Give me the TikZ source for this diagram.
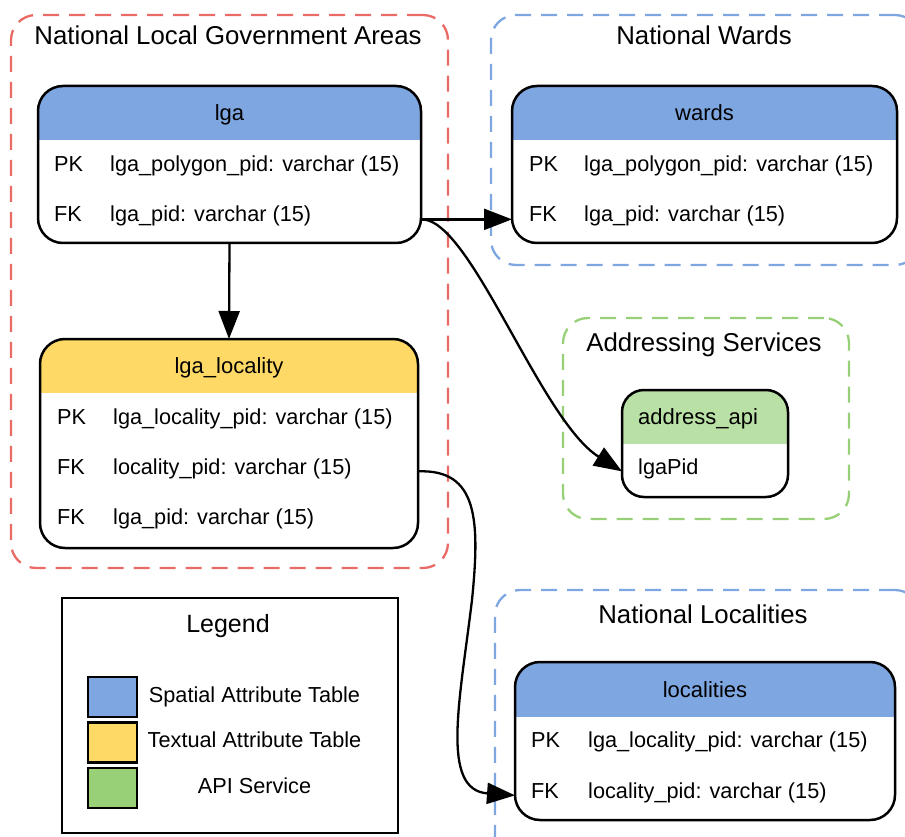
\documentclass[tikz,border=0pt]{standalone}
\usepackage{fontspec}
\setmainfont{Liberation Sans}
\usetikzlibrary{arrows.meta}
\definecolor{hblue}{HTML}{7EA6E0}
\definecolor{hyellow}{HTML}{FFD966}
\definecolor{hgreen}{HTML}{B9E0A5}
\definecolor{lgreen}{HTML}{97D077}
\definecolor{cred}{HTML}{EA6B66}
\definecolor{cblue}{HTML}{7EA6E0}
\definecolor{cgreen}{HTML}{97D077}
\newcommand\fldfont{\fontsize{21.7pt}{26pt}\selectfont}
\newcommand\hdrfont{\fontsize{22pt}{26pt}\selectfont}
\newcommand\ttlfont{\fontsize{25.8pt}{30pt}\selectfont}
\tikzset{
  clus/.style={draw=#1, line width=2.3pt, dash pattern=on 16pt off 10pt, rounded corners=25pt, inner sep=0pt, outer sep=0pt},
  tbl/.style args={#1/#2}{draw=black, line width=2.5pt, rounded corners=25pt, inner sep=0pt, outer sep=0pt,
    path picture={\fill[#1, sharp corners] (path picture bounding box.north west) rectangle ([yshift=-#2]path picture bounding box.north east);}},
  fld/.style={anchor=base west, inner sep=0pt, font=\fldfont},
  hdr/.style={anchor=base, inner sep=0pt, font=\hdrfont},
  ttl/.style={anchor=base, inner sep=0pt, font=\ttlfont},
  conn/.style={line width=2.3pt, -{Triangle[length=28pt,width=21pt]}},
  swatch/.style={draw=black, line width=2.3pt, fill=#1, minimum width=49pt, minimum height=40pt, inner sep=0pt},
}
\begin{document}
\begin{tikzpicture}[x=1pt,y=-1pt]
\useasboundingbox (0,0) rectangle (905,837);
% clusters
\node[clus=cred, minimum width=437pt, minimum height=553pt] (cLga) at (229.5,291.5) {};
\node[ttl] (tLga) at (228,45) {National Local Government Areas};
\node[clus=cblue, minimum width=429pt, minimum height=250pt] (cWards) at (705.5,140) {};
\node[ttl] (tWards) at (704,45) {National Wards};
\node[clus=cgreen, minimum width=286pt, minimum height=201pt] (cAddr) at (706,418.5) {};
\node[ttl] (tAddr) at (704,351) {Addressing Services};
\node[clus=cblue, minimum width=425pt, minimum height=280pt] (cLoc) at (707.5,730) {};
\node[ttl] (tLoc) at (703,623) {National Localities};

% lga
\node[tbl=hblue/54pt, minimum width=383pt, minimum height=157pt] (lga) at (229.5,164.5) {};
\node[hdr] (lgaH) at (229.5,121) {lga};
\node[fld] (lgaPK) at (54,172) {PK};
\node[fld] (lgaPKf) at (110,172) {lga\_polygon\_pid: varchar (15)};
\node[fld] (lgaFK) at (54,222) {FK};
\node[fld] (lgaFKf) at (110,222) {lga\_pid: varchar (15)};

% wards
\node[tbl=hblue/54pt, minimum width=385pt, minimum height=157pt] (wards) at (704.5,164.5) {};
\node[hdr] (wardsH) at (704.5,121) {wards};
\node[fld] (wardsPK) at (529,172) {PK};
\node[fld] (wardsPKf) at (584,172) {lga\_polygon\_pid: varchar (15)};
\node[fld] (wardsFK) at (529,222) {FK};
\node[fld] (wardsFKf) at (584,222) {lga\_pid: varchar (15)};

% lga_locality
\node[tbl=hyellow/54pt, minimum width=378pt, minimum height=209pt] (lgaloc) at (229,443.5) {};
\node[hdr] (lgalocH) at (229,373) {lga\_locality};
\node[fld] (lgalocPK) at (57,424) {PK};
\node[fld] (lgalocPKf) at (113,424) {lga\_locality\_pid: varchar (15)};
\node[fld] (lgalocFK) at (57,474) {FK};
\node[fld] (lgalocFKf) at (113,474) {locality\_pid: varchar (15)};
\node[fld] (lgalocFK2) at (57,524) {FK};
\node[fld] (lgalocFK2f) at (113,524) {lga\_pid: varchar (15)};

% address_api
\node[tbl=hgreen/54pt, minimum width=166pt, minimum height=107pt, rounded corners=22pt] (api) at (705,443.5) {};
\node[fld, font=\hdrfont] (apiH) at (638,424) {address\_api};
\node[fld] (apiPid) at (638,474) {lgaPid};

% localities
\node[tbl=hblue/55pt, minimum width=380pt, minimum height=158pt] (loc) at (705,741) {};
\node[hdr] (locH) at (705,697) {localities};
\node[fld] (locPK) at (531,747) {PK};
\node[fld] (locPKf) at (588,747) {lga\_locality\_pid: varchar (15)};
\node[fld] (locFK) at (531,798) {FK};
\node[fld] (locFKf) at (588,798) {locality\_pid: varchar (15)};

% legend
\node[draw=black, line width=2.3pt, minimum width=336pt, minimum height=235pt, inner sep=0pt] (legend) at (230,715.5) {};
\node[anchor=base, inner sep=0pt, font=\fontsize{25pt}{30pt}\selectfont] (legendT) at (228,632) {Legend};
\node[swatch=hblue] (swB) at (112.5,697) {};
\node[swatch=hyellow] (swY) at (112.5,742.5) {};
\node[swatch=lgreen] (swG) at (112.5,788) {};
\node[anchor=base, inner sep=0pt, font=\fldfont] (lgB) at (254.5,702) {Spatial Attribute Table};
\node[anchor=base, inner sep=0pt, font=\fldfont] (lgY) at (254.5,747) {Textual Attribute Table};
\node[anchor=base, inner sep=0pt, font=\fldfont] (lgG) at (254.5,793) {API Service};

% connectors
\draw[conn] (lga.south) -- (lgaloc.north);
\draw[conn] (lga.east |- lgaFK.mid) -- (wards.west |- wardsFK.mid);
\draw[conn] (lga.east |- lgaFK.mid) .. controls (470,217) and (540,420) .. (api.west |- apiPid.mid);
\coordinate (bend4) at (472,600);
\draw[conn] (lgaloc.east |- lgalocFK.mid) .. controls (478,469) and (480,520) .. (bend4)
  .. controls (460,700) and (440,790) .. (loc.west |- locFK.mid);
\end{tikzpicture}
\end{document}
